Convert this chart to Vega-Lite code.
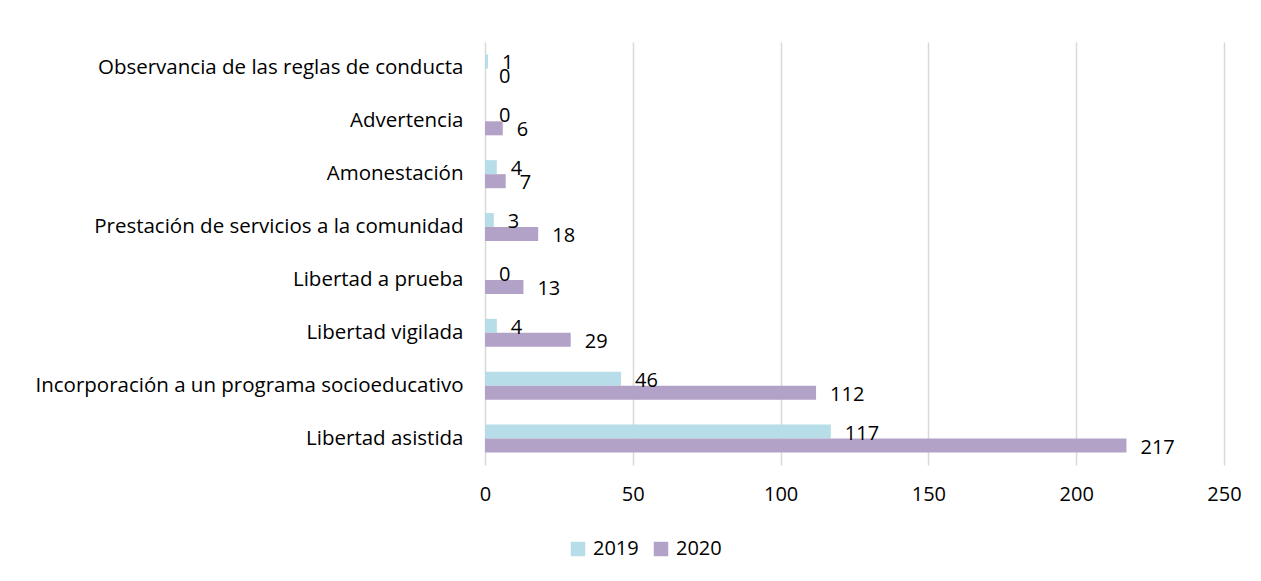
{
  "$schema": "https://vega.github.io/schema/vega-lite/v6.json",
  "width": 739,
  "height": 423,
  "autosize": {"type": "none"},
  "padding": {"left": 485, "top": 42, "right": 37, "bottom": 116},
  "background": "white",
  "config": {
    "view": {"stroke": null},
    "font": "Open Sans",
    "text": {"font": "Open Sans"}
  },
  "data": {
    "values": [
      {"categoria": "Observancia de las reglas de conducta", "anio": "2019", "valor": 1},
      {"categoria": "Observancia de las reglas de conducta", "anio": "2020", "valor": 0},
      {"categoria": "Advertencia", "anio": "2019", "valor": 0},
      {"categoria": "Advertencia", "anio": "2020", "valor": 6},
      {"categoria": "Amonestación", "anio": "2019", "valor": 4},
      {"categoria": "Amonestación", "anio": "2020", "valor": 7},
      {"categoria": "Prestación de servicios a la comunidad", "anio": "2019", "valor": 3},
      {"categoria": "Prestación de servicios a la comunidad", "anio": "2020", "valor": 18},
      {"categoria": "Libertad a prueba", "anio": "2019", "valor": 0},
      {"categoria": "Libertad a prueba", "anio": "2020", "valor": 13},
      {"categoria": "Libertad vigilada", "anio": "2019", "valor": 4},
      {"categoria": "Libertad vigilada", "anio": "2020", "valor": 29},
      {"categoria": "Incorporación a un programa socioeducativo", "anio": "2019", "valor": 46},
      {"categoria": "Incorporación a un programa socioeducativo", "anio": "2020", "valor": 112},
      {"categoria": "Libertad asistida", "anio": "2019", "valor": 117},
      {"categoria": "Libertad asistida", "anio": "2020", "valor": 217}
    ]
  },
  "encoding": {
    "y": {
      "field": "categoria",
      "type": "nominal",
      "sort": [
        "Observancia de las reglas de conducta",
        "Advertencia",
        "Amonestación",
        "Prestación de servicios a la comunidad",
        "Libertad a prueba",
        "Libertad vigilada",
        "Incorporación a un programa socioeducativo",
        "Libertad asistida"
      ],
      "scale": {"paddingInner": 0.47, "paddingOuter": 0.235},
      "axis": {
        "title": null,
        "domain": false,
        "ticks": false,
        "labelPadding": 22,
        "labelFont": "Open Sans",
        "labelFontSize": 20.5,
        "labelColor": "#000000",
        "labelLimit": 600
      }
    },
    "yOffset": {"field": "anio", "type": "nominal", "sort": ["2019", "2020"]},
    "x": {
      "field": "valor",
      "type": "quantitative",
      "scale": {"domain": [0, 250], "nice": false},
      "axis": {
        "title": null,
        "values": [0, 50, 100, 150, 200, 250],
        "domain": false,
        "ticks": false,
        "grid": true,
        "gridColor": "#d9d9d9",
        "gridWidth": 1.5,
        "labelFlush": false,
        "labelPadding": 19,
        "labelFont": "Open Sans",
        "labelFontSize": 20,
        "labelColor": "#000000"
      }
    }
  },
  "layer": [
    {
      "mark": {"type": "bar"},
      "encoding": {
        "color": {
          "field": "anio",
          "type": "nominal",
          "scale": {"domain": ["2019", "2020"], "range": ["#B7DEE8", "#B3A2C7"]},
          "legend": {
            "title": null,
            "orient": "none",
            "direction": "horizontal",
            "legendX": 83,
            "legendY": 497,
            "symbolType": "square",
            "symbolSize": 210,
            "symbolStrokeWidth": 0,
            "labelFont": "Open Sans",
            "labelFontSize": 20,
            "labelColor": "#000000",
            "columnPadding": 12,
            "labelOffset": 5
          }
        }
      }
    },
    {
      "mark": {"type": "text", "align": "left", "baseline": "middle", "dx": 14, "dy": 2, "fontSize": 20, "color": "#000000"},
      "encoding": {
        "text": {"field": "valor", "type": "quantitative"}
      }
    }
  ]
}
